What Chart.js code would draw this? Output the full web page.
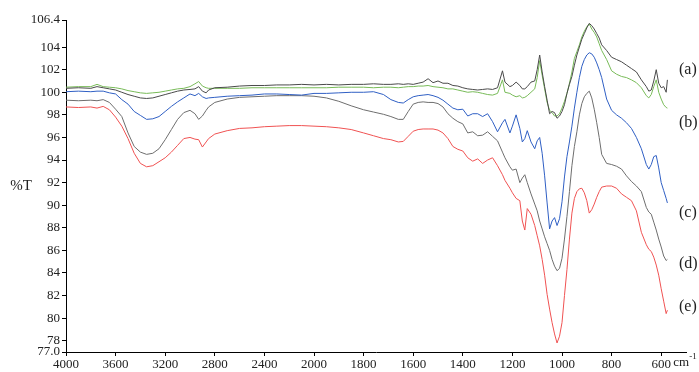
<!DOCTYPE html>
<html><head><meta charset="utf-8">
<script src="https://cdn.jsdelivr.net/npm/chart.js@4/dist/chart.umd.min.js"></script>
<style>html,body{margin:0;padding:0;background:#fff;}canvas{display:block;}
#fontwarm{position:absolute;left:-999px;top:0;font-family:"Liberation Serif";font-size:13px;}</style>
</head><body>
<div id="fontwarm">0123456789 cm %T (abcde)</div>
<canvas id="c" width="699" height="372"></canvas>
<script>
// Wavenumber grid (cm-1), shared by all spectra
const wavenumbers = [4000,3900,3800,3750,3700,3650,3600,3550,3500,3450,
3400,3350,3300,3250,3200,3150,3100,3050,3000,2960,
2930,2900,2870,2850,2800,2700,2600,2500,2400,2300,
2200,2100,2000,1950,1900,1850,1800,1760,1720,1690,
1660,1640,1620,1600,1580,1560,1540,1520,1500,1480,
1460,1440,1420,1400,1380,1360,1340,1320,1300,1280,
1260,1240,1230,1210,1200,1185,1170,1160,1150,1140,
1125,1110,1100,1090,1080,1070,1060,1050,1040,1030,
1020,1010,1000,990,980,970,960,950,940,930,
920,910,900,890,880,870,860,850,840,820,
800,780,760,740,720,700,680,660,650,640,
630,620,610,600,590,580,575];

// (a) dark grey
const seriesA = [100.35,100.4,100.35,100.5,100.4,100.3,100.2,100.0,99.8,99.65,
99.5,99.45,99.5,99.65,99.8,99.95,100.1,100.2,100.25,100.3,
100.5,100.1,99.95,100.2,100.4,100.45,100.55,100.6,100.6,100.65,
100.65,100.7,100.65,100.7,100.65,100.7,100.7,100.75,100.7,100.7,
100.75,100.7,100.75,100.7,100.8,100.9,101.2,100.85,101.0,100.8,
100.8,100.6,100.55,100.4,100.3,100.25,100.2,100.25,100.3,100.25,
100.4,101.9,100.9,100.5,100.6,100.9,100.6,100.3,100.3,100.5,
100.9,101.0,102.0,103.3,101.8,100.5,99.3,98.1,98.3,98.2,
97.7,97.9,98.3,98.9,99.9,100.7,101.4,102.4,103.3,104.0,
104.7,105.2,105.7,106.1,105.9,105.6,105.2,104.8,104.2,103.7,
103.1,102.9,102.7,102.4,102.1,101.8,101.1,100.5,100.1,100.2,
101.0,102.0,100.8,100.4,100.5,100.0,101.1];

// (b) green
const seriesB = [100.45,100.5,100.5,100.7,100.5,100.45,100.4,100.3,100.15,100.05,
99.95,99.9,99.95,100.0,100.1,100.2,100.3,100.35,100.5,100.75,
100.95,100.55,100.4,100.35,100.35,100.35,100.35,100.4,100.4,100.4,
100.4,100.4,100.4,100.4,100.45,100.45,100.45,100.4,100.45,100.45,
100.4,100.45,100.5,100.5,100.55,100.55,100.6,100.5,100.45,100.4,
100.3,100.3,100.2,100.1,100.0,100.05,100.0,99.9,99.8,99.75,
99.9,101.1,100.0,99.9,99.75,99.6,99.7,99.5,99.55,99.7,
100.0,100.3,101.3,102.8,101.5,100.3,99.1,98.4,98.2,97.9,
97.9,98.1,98.6,99.2,99.9,100.8,101.8,103.0,103.6,104.2,
104.9,105.4,105.8,106.05,105.6,105.3,104.9,104.3,103.7,102.9,
101.9,101.6,101.4,101.3,101.1,100.85,100.4,99.7,99.5,99.8,
100.5,101.1,100.0,99.4,98.9,98.65,98.6];

// (c) blue
const seriesC = [100.05,100.1,100.05,100.1,100.1,99.95,99.85,99.35,98.95,98.3,
97.95,97.6,97.65,97.85,98.3,98.75,99.15,99.5,99.85,99.7,
99.9,99.6,99.45,99.5,99.55,99.65,99.7,99.75,99.85,99.85,
99.8,99.75,99.9,99.9,99.95,100.0,100.0,100.05,99.8,99.35,
99.1,99.05,99.35,99.6,99.7,99.75,99.8,99.7,99.55,99.3,
98.95,98.6,98.45,98.5,97.9,98.1,98.1,97.85,98.1,97.4,
96.5,97.3,97.6,96.4,97.0,98.0,96.8,95.6,95.9,96.6,
95.6,95.0,95.7,96.0,94.6,92.6,90.2,87.9,88.6,88.9,
88.2,88.8,90.3,92.5,94.3,95.6,97.0,98.6,100.0,101.3,
102.3,102.9,103.3,103.5,103.4,103.1,102.6,102.0,101.3,99.4,
98.4,98.0,97.7,97.3,96.8,96.0,95.0,93.6,93.2,93.6,
94.3,94.4,93.3,92.0,91.3,90.6,90.2];

// (d) grey
const seriesD = [99.3,99.25,99.3,99.25,99.35,99.1,98.5,97.85,96.4,95.2,
94.7,94.5,94.6,95.0,95.8,96.7,97.6,98.2,98.4,98.1,
97.6,97.9,98.4,98.7,99.1,99.4,99.55,99.6,99.65,99.7,
99.7,99.7,99.65,99.5,99.2,98.8,98.45,98.25,98.05,97.85,
97.6,97.6,98.3,98.95,99.1,99.15,99.1,99.1,99.0,98.7,
98.1,97.7,97.4,97.2,96.4,96.5,96.15,96.2,96.5,96.1,
95.7,94.7,94.2,93.4,93.1,93.2,92.0,92.4,92.7,92.0,
91.0,90.1,89.5,88.6,87.9,87.2,86.6,86.0,85.2,84.6,
84.2,84.4,85.3,87.0,89.0,91.2,93.5,95.2,96.5,98.0,
99.0,99.6,99.9,100.1,99.5,98.5,97.3,96.0,94.5,93.7,
93.6,93.45,93.2,92.6,92.1,91.7,91.2,89.8,89.4,89.2,
88.5,87.8,87.0,86.3,85.5,85.1,85.2];

// (e) red
const seriesE = [98.7,98.65,98.7,98.6,98.75,98.45,97.8,97.0,95.9,94.6,
93.7,93.4,93.5,93.85,94.2,94.7,95.3,95.9,96.0,95.85,
95.8,95.15,95.6,95.9,96.3,96.6,96.8,96.85,96.95,97.0,
97.05,97.05,97.0,96.95,96.85,96.7,96.4,96.15,95.9,95.8,
95.6,95.65,96.1,96.55,96.7,96.75,96.75,96.75,96.65,96.4,
95.9,95.2,94.95,94.8,94.2,93.9,94.1,93.7,94.0,94.2,
93.5,92.7,92.2,91.5,91.1,90.6,90.4,88.6,87.8,89.7,
89.2,88.2,87.3,86.4,85.2,83.8,82.1,80.8,79.6,78.6,
77.8,78.4,79.6,82.0,84.3,87.0,89.3,90.6,91.2,91.45,
91.5,91.1,90.4,89.3,89.6,90.1,90.7,91.2,91.6,91.7,
91.7,91.5,91.0,90.7,90.4,89.5,87.6,86.5,86.1,85.9,
85.4,84.7,83.8,82.6,81.5,80.4,80.7];

const seriesNames = ['(a)','(b)','(c)','(d)','(e)'];
const seriesLabelLevels = [102.0, 97.3, 89.3, 84.8, 81.0];
const xTickLabels = [4000,3600,3200,2800,2400,2000,1800,1600,1400,1200,1000,800,600];
const yTickLabels = [77,78,80,82,84,86,88,90,92,94,96,98,100,102,104,106.4];

// Instrument-style axis: scale doubles below 2000 cm-1
function toAxis(w){ return w >= 2000 ? (4000 - w) / 2 : 1000 + (2000 - w); }
function fromAxis(u){ return u <= 1000 ? 4000 - 2 * u : 2000 - (u - 1000); }

const colors = ['#4a4a4a', '#78bb58', '#2f5fc4', '#6e6e6e', '#f05252'];
const allSeries = [seriesA, seriesB, seriesC, seriesD, seriesE];

const SERIF = 'Liberation Serif';

function build() {
  Chart.defaults.font.family = SERIF;
  Chart.defaults.font.size = 13;
  Chart.defaults.color = '#222';

  const datasets = allSeries.map((s, i) => ({
    label: seriesNames[i],
    data: wavenumbers.map((w, j) => ({x: toAxis(w), y: s[j]})),
    borderColor: colors[i],
    borderWidth: 1,
    pointRadius: 0,
    tension: 0,
    fill: false
  }));

  const annot = {
    id: 'annot',
    afterDraw(chart) {
      const ctx = chart.ctx, ys = chart.scales.y, xs = chart.scales.x, ca = chart.chartArea;
      ctx.save();
      ctx.fillStyle = '#222';
      ctx.textBaseline = 'middle';
      ctx.textAlign = 'left';
      ctx.font = '16px "' + SERIF + '"';
      seriesNames.forEach((t, i) => ctx.fillText(t, ca.right - 7, ys.getPixelForValue(seriesLabelLevels[i])));
      ctx.textAlign = 'center';
      ctx.font = '15px "' + SERIF + '"';
      ctx.fillText('%T', 21, (ca.top + ca.bottom) / 2);
      const px = xs.getPixelForValue(toAxis(600));
      ctx.textAlign = 'left';
      ctx.font = '13px "' + SERIF + '"';
      ctx.fillText('cm', px + 12, ca.bottom + 11);
      ctx.font = '9px "' + SERIF + '"';
      ctx.fillText('-1', px + 28, ca.bottom + 5);
      ctx.restore();
    }
  };

  new Chart(document.getElementById('c'), {
    type: 'line',
    data: { datasets },
    plugins: [annot],
    options: {
      responsive: false,
      animation: false,
      layout: { padding: { left: 0, right: 13, top: 20, bottom: 0 } },
      plugins: { legend: { display: false }, tooltip: { enabled: false } },
      scales: {
        x: {
          type: 'linear', min: 0, max: 2500,
          afterBuildTicks: s => { s.ticks = xTickLabels.map(w => ({ value: toAxis(w) })); },
          afterFit: s => { s.height = 20; },
          grid: { display: true, drawOnChartArea: false, drawTicks: true, tickLength: 4, color: '#000' },
          border: { display: true, color: '#000', width: 1 },
          ticks: { autoSkip: false, maxRotation: 0, padding: 1, color: '#222',
            font: { family: SERIF, size: 13 },
            callback: v => String(Math.round(fromAxis(v))) }
        },
        y: {
          min: 77, max: 106.4,
          afterBuildTicks: s => { s.ticks = yTickLabels.map(v => ({ value: v })); },
          afterFit: s => { s.width = 66; },
          grid: { display: true, drawOnChartArea: false, drawTicks: true, tickLength: 4, color: '#000' },
          border: { display: true, color: '#000', width: 1 },
          ticks: { autoSkip: false, padding: 2, color: '#222',
            font: { family: SERIF, size: 13 },
            callback: v => v === 77 ? '77.0' : (v === 106.4 ? '106.4' : String(v)) }
        }
      }
    }
  });
}

Promise.all([
  document.fonts.load('13px "Liberation Serif"'),
  document.fonts.load('16px "Liberation Serif"')
]).then(build, build);
</script>
</body></html>
